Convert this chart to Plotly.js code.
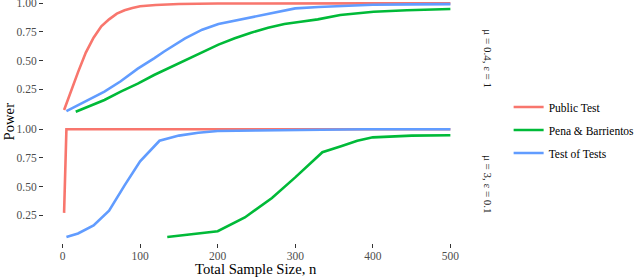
<!DOCTYPE html>
<html>
<head>
<meta charset="utf-8">
<script src="https://cdn.plot.ly/plotly-3.0.1.min.js"></script>
<style>html,body{margin:0;padding:0;background:#fff;}#chart{width:640px;height:278px;}</style>
</head>
<body>
<div id="chart"></div>
<script>
// Series names
const seriesNames = ["Public Test", "Pena & Barrientos", "Test of Tests"];
const facetLabels = ["μ = 0.4, ε = 1", "μ = 3, ε = 0.1"];

// Top panel (mu = 0.4, eps = 1)
const nPublicTop = [2, 10, 20, 30, 40, 50, 60, 70, 80, 90, 100, 120, 150, 200, 250, 300, 400, 500];
const powerPublicTop = [0.07, 0.22, 0.40, 0.57, 0.70, 0.80, 0.86, 0.91, 0.94, 0.96, 0.975, 0.986, 0.994, 0.998, 1, 1, 1, 1];
const nPenaTop = [17, 33, 54, 75, 97, 118, 137, 158, 180, 201, 222, 243, 265, 286, 307, 329, 358, 401, 444, 500];
const powerPenaTop = [0.055, 0.098, 0.157, 0.23, 0.30, 0.375, 0.435, 0.50, 0.57, 0.64, 0.695, 0.744, 0.787, 0.82, 0.84, 0.86, 0.898, 0.927, 0.94, 0.95];
const nTotTop = [5, 20, 33, 54, 75, 97, 118, 131, 158, 180, 201, 222, 243, 265, 286, 300, 330, 358, 400, 450, 500];
const powerTotTop = [0.06, 0.11, 0.157, 0.23, 0.32, 0.43, 0.52, 0.58, 0.695, 0.77, 0.82, 0.85, 0.88, 0.907, 0.936, 0.956, 0.968, 0.978, 0.988, 0.991, 0.993];

// Bottom panel (mu = 3, eps = 0.1)
const nPublicBot = [2, 5, 50, 100, 200, 300, 400, 500];
const powerPublicBot = [0.27, 1, 1, 1, 1, 1, 1, 1];
const nPenaBot = [135, 200, 235, 270, 300, 335, 360, 380, 400, 450, 500];
const powerPenaBot = [0.06, 0.11, 0.23, 0.40, 0.58, 0.80, 0.855, 0.90, 0.93, 0.945, 0.948];
const nTotBot = [5, 20, 40, 60, 80, 100, 125, 150, 175, 200, 250, 300, 390, 500];
const powerTotBot = [0.06, 0.09, 0.16, 0.29, 0.51, 0.72, 0.90, 0.945, 0.97, 0.985, 0.99, 0.995, 1, 1];

// Axis ticks
const xTicks = [0, 100, 200, 300, 400, 500];
const yTicks = [0.25, 0.50, 0.75, 1.00];

const colors = ["#F8766D", "#00BA38", "#619CFF"];
const LW = 2.6;
const font = "Liberation Serif, serif";

function tr(x, y, i, yaxis, show) {
  return {
    x: x, y: y, type: "scatter", mode: "lines", name: seriesNames[i],
    legendgroup: "g" + i, showlegend: show, yaxis: yaxis, xaxis: "x",
    line: {color: colors[i], width: LW}, hoverinfo: "skip"
  };
}

const data = [
  tr(nPublicTop, powerPublicTop, 0, "y", true),
  tr(nPenaTop, powerPenaTop, 1, "y", true),
  tr(nTotTop, powerTotTop, 2, "y", true),
  tr(nPublicBot, powerPublicBot, 0, "y2", false),
  tr(nPenaBot, powerPenaBot, 1, "y2", false),
  tr(nTotBot, powerTotBot, 2, "y2", false)
];

const yax = {
  tickvals: yTicks, ticktext: yTicks.map(v => v.toFixed(2)),
  ticks: "outside", ticklen: 4, tickwidth: 1, tickcolor: "#333333",
  showgrid: false, zeroline: false, showline: false,
  ticklabeloverflow: "allow",
  tickfont: {family: font, size: 11.5, color: "#4D4D4D"}
};

const layout = {
  width: 640, height: 278,
  margin: {l: 44, r: 167, t: 0, b: 35},
  paper_bgcolor: "#fff", plot_bgcolor: "#fff",
  font: {family: font},
  xaxis: {
    anchor: "y2", range: [-23.9, 524], tickvals: xTicks,
    ticks: "outside", ticklen: 4, tickwidth: 1, tickcolor: "#333333",
    showgrid: false, zeroline: false, showline: false,
    ticklabeloverflow: "allow", ticklabelstandoff: -2,
    tickfont: {family: font, size: 11.5, color: "#4D4D4D"}
  },
  yaxis: Object.assign({}, yax, {domain: [0.5206, 1], range: [0.013, 1.029]}),
  yaxis2: Object.assign({}, yax, {domain: [0, 0.4914], range: [0.007, 1.05]}),
  showlegend: true,
  legend: {
    xref: "paper", xanchor: "left", yanchor: "middle",
    font: {family: font, size: 11.5, color: "#000"},
    traceorder: "grouped", tracegroupgap: 4, bgcolor: "rgba(0,0,0,0)"
  },
  annotations: [
    {text: facetLabels[0], xref: "paper", yref: "paper", x: 1.0, xshift: 19, y: 0.76, textangle: 90,
     showarrow: false, font: {family: font, size: 11, color: "#1A1A1A"}, xanchor: "center", yanchor: "middle"},
    {text: facetLabels[1], xref: "paper", yref: "paper", x: 1.0, xshift: 19, y: 0.243, textangle: 90,
     showarrow: false, font: {family: font, size: 11, color: "#1A1A1A"}, xanchor: "center", yanchor: "middle"},
    {text: "Power", xref: "paper", yref: "paper", x: 0, xshift: -36, y: 0.5, textangle: -90,
     showarrow: false, font: {family: font, size: 14.7, color: "#000"}, xanchor: "center", yanchor: "middle"},
    {text: "Total Sample Size, n", xref: "paper", yref: "paper", x: (258 - 44) / (640 - 44 - 167), y: 0, yshift: -26,
     showarrow: false, font: {family: font, size: 14.7, color: "#000"}, xanchor: "center", yanchor: "middle"}
  ]
};
layout.legend.x = (513 - 44) / (640 - 44 - 167);
layout.legend.y = 1 - (130 / 243);

Plotly.newPlot("chart", data, layout, {displayModeBar: false, staticPlot: true});
</script>
</body>
</html>
